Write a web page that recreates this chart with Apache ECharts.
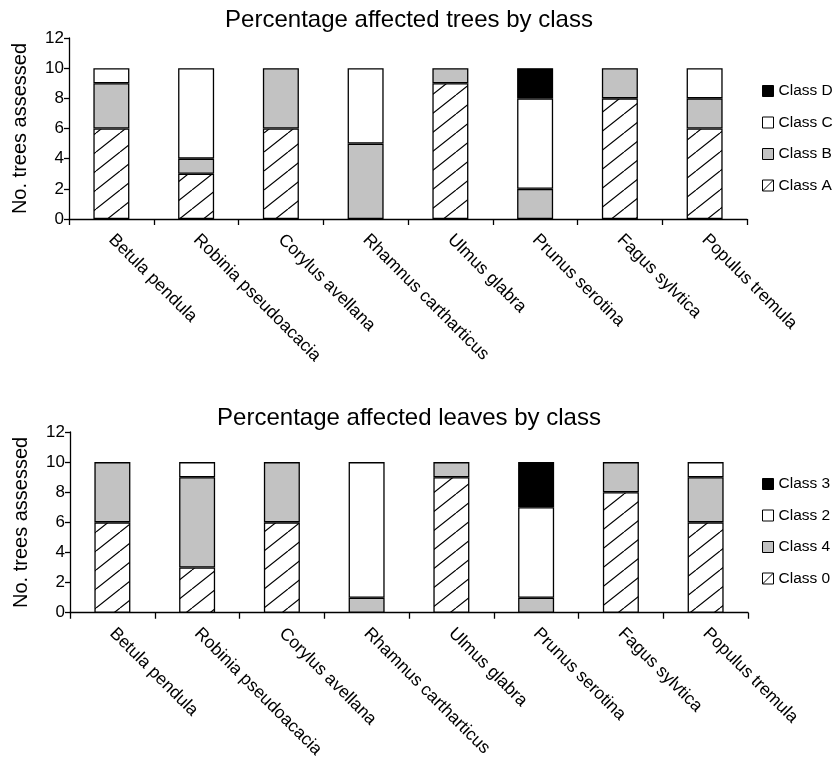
<!DOCTYPE html>
<html>
<head>
<meta charset="utf-8">
<script src="https://cdn.jsdelivr.net/npm/echarts@6/dist/echarts.min.js"></script>
<style>
  html, body { margin: 0; padding: 0; background: #fff; }
  #chart { width: 840px; height: 761px; }
</style>
</head>
<body>
<div id="chart"></div>
<script>
// Species on the x axis (shared by both panels)
const species = ['Betula pendula', 'Robinia pseudoacacia', 'Corylus avellana',
  'Rhamnus cartharticus', 'Ulmus glabra', 'Prunus serotina', 'Fagus sylvtica', 'Populus tremula'];

// Upper panel: trees per class
const treesClassA = [6, 3, 6, 0, 9, 0, 8, 6];
const treesClassB = [3, 1, 4, 5, 1, 2, 2, 2];
const treesClassC = [1, 6, 0, 5, 0, 6, 0, 2];
const treesClassD = [0, 0, 0, 0, 0, 2, 0, 0];

// Lower panel: leaves per class
const leavesClass0 = [6, 3, 6, 0, 9, 0, 8, 6];
const leavesClass4 = [4, 6, 4, 1, 1, 1, 2, 3];
const leavesClass2 = [0, 1, 0, 9, 0, 6, 0, 1];
const leavesClass3 = [0, 0, 0, 0, 0, 3, 0, 0];

const yTicks = { min: 0, max: 12, interval: 2 };

// Diagonal hatch fill used for the lowest class
function hatchPattern() {
  const w = 24, h = 19;
  const c = document.createElement('canvas');
  c.width = w; c.height = h;
  const g = c.getContext('2d');
  g.fillStyle = '#fff';
  g.fillRect(0, 0, w, h);
  g.strokeStyle = '#000';
  g.lineWidth = 1.2;
  g.beginPath();
  for (const dx of [-w, 0, w]) {
    g.moveTo(dx, h); g.lineTo(dx + w, 0);
  }
  g.stroke();
  return { image: c, repeat: 'repeat' };
}
const hatch = hatchPattern();
const GRAY = '#c2c2c2';
const FONT = 'Liberation Sans, Arial, sans-serif';
// Legend key for the hatched class: an outlined square crossed by one diagonal
const HATCH_ICON = 'path://M0,0H11V11H0Z M0,11L11,0';

const grids = [
  { left: 69, top: 38, width: 678, height: 181 },
  { left: 70, top: 432, width: 678, height: 181 }
];

function xAxis(i) {
  return {
    type: 'category', gridIndex: i, data: species,
    axisLine: { lineStyle: { color: '#000', width: 1.3 } },
    axisTick: { show: true, length: 6, lineStyle: { color: '#000', width: 1.3 } },
    axisLabel: { interval: 0, rotate: -45, margin: 18, color: '#000', fontSize: 17.5, fontFamily: FONT }
  };
}
function yAxis(i) {
  return {
    type: 'value', gridIndex: i, min: yTicks.min, max: yTicks.max, interval: yTicks.interval,
    name: 'No. trees assessed', nameLocation: 'middle', nameGap: 39,
    nameTextStyle: { color: '#000', fontSize: 20, fontFamily: FONT },
    axisLine: { show: true, lineStyle: { color: '#000', width: 1.3 } },
    axisTick: { show: true, length: 5, lineStyle: { color: '#000', width: 1.3 } },
    axisLabel: { color: '#000', fontSize: 17, fontFamily: FONT, margin: 5 },
    splitLine: { show: false }
  };
}
// Empty segments get no outline so they leave no stray line on the bar
function bar(name, values, color, i) {
  return {
    name, type: 'bar', stack: 'panel' + i, xAxisIndex: i, yAxisIndex: i,
    data: values.map(v => v === 0 ? { value: v, itemStyle: { borderWidth: 0 } } : v),
    barWidth: 36,
    itemStyle: { color, borderColor: '#000', borderWidth: 1.3 },
    emphasis: { disabled: true }
  };
}
function legend(names, top) {
  const data = names.map((n, k) => k === names.length - 1
    ? { name: n, icon: HATCH_ICON, itemStyle: { color: '#fff' } }
    : n);
  return {
    orient: 'vertical', left: 757, top, data,
    icon: 'rect', itemWidth: 11, itemHeight: 11, itemGap: 15.5,
    textStyle: { color: '#000', fontSize: 15.5, lineHeight: 16, fontFamily: FONT },
    itemStyle: { borderColor: '#000', borderWidth: 1 }
  };
}

const chart = echarts.init(document.getElementById('chart'), null, { renderer: 'canvas' });
chart.setOption({
  animation: false,
  backgroundColor: '#fff',
  title: [
    { text: 'Percentage affected trees by class', left: 404, top: 3, textAlign: 'center',
      textStyle: { color: '#000', fontSize: 24, fontWeight: 'normal', fontFamily: FONT } },
    { text: 'Percentage affected leaves by class', left: 404, top: 401, textAlign: 'center',
      textStyle: { color: '#000', fontSize: 24, fontWeight: 'normal', fontFamily: FONT } }
  ],
  legend: [
    legend(['Class D', 'Class C', 'Class B', 'Class A'], 78),
    legend(['Class 3', 'Class 2', 'Class 4', 'Class 0'], 471)
  ],
  grid: grids,
  xAxis: [xAxis(0), xAxis(1)],
  yAxis: [yAxis(0), yAxis(1)],
  series: [
    bar('Class A', treesClassA, hatch, 0),
    bar('Class B', treesClassB, GRAY, 0),
    bar('Class C', treesClassC, '#fff', 0),
    bar('Class D', treesClassD, '#000', 0),
    bar('Class 0', leavesClass0, hatch, 1),
    bar('Class 4', leavesClass4, GRAY, 1),
    bar('Class 2', leavesClass2, '#fff', 1),
    bar('Class 3', leavesClass3, '#000', 1)
  ]
});
</script>
</body>
</html>
